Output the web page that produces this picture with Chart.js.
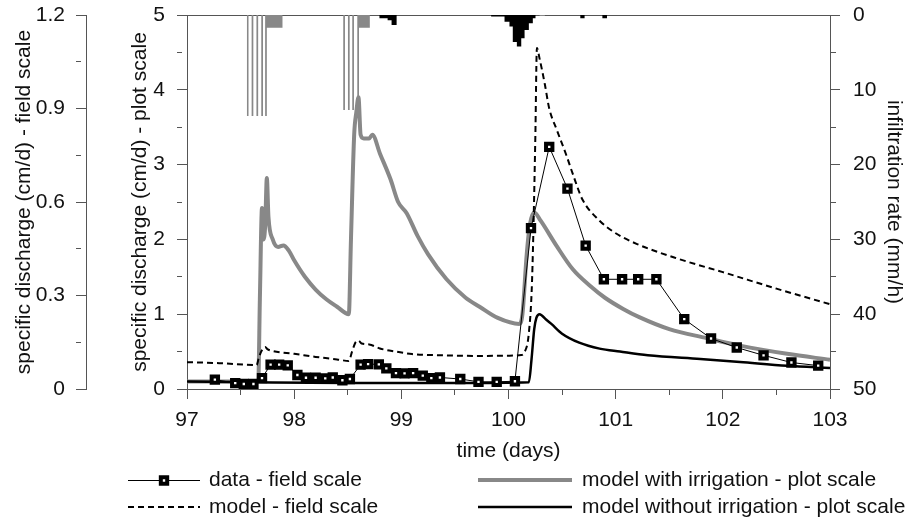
<!DOCTYPE html>
<html>
<head>
<meta charset="utf-8">
<title>specific discharge and infiltration rate</title>
<script src="https://cdn.jsdelivr.net/npm/chart.js@4.4.1/dist/chart.umd.min.js"></script>
<style>
  html, body { margin: 0; padding: 0; background: #fff; }
  #wrap { width: 907px; height: 518px; position: relative; }
</style>
</head>
<body>
<div id="wrap"><canvas id="chart"></canvas></div>
<script>
// measured discharge, field scale (cm/d)
var dataDays = [97.26, 97.45, 97.53, 97.62, 97.70, 97.78, 97.86, 97.94, 98.03, 98.11, 98.20, 98.29, 98.36, 98.45,
    98.52, 98.62, 98.69, 98.79, 98.86, 98.95, 99.03, 99.11, 99.20, 99.28, 99.36, 99.55, 99.72, 99.89, 100.06,
    100.21, 100.38, 100.55, 100.72, 100.89, 101.06, 101.21, 101.38, 101.64, 101.89, 102.13, 102.38, 102.64, 102.89];
var dataField = [0.030, 0.019, 0.016, 0.016, 0.035, 0.078, 0.078, 0.076, 0.045, 0.036, 0.036, 0.034, 0.037, 0.028,
    0.032, 0.078, 0.080, 0.079, 0.066, 0.051, 0.050, 0.051, 0.043, 0.035, 0.037, 0.032, 0.023, 0.023, 0.025,
    0.516, 0.777, 0.643, 0.460, 0.352, 0.352, 0.352, 0.352, 0.224, 0.162, 0.133, 0.108, 0.085, 0.075];

// model, field scale (cm/d)
var fieldModelDays = [97.0, 97.3, 97.65, 97.67, 97.70, 97.73, 97.75, 97.8, 98.0, 98.2, 98.4, 98.51, 98.54, 98.57,
    98.6, 98.63, 98.7, 98.8, 98.95, 99.1, 99.4, 99.73, 100.0, 100.12, 100.15, 100.19, 100.22, 100.25, 100.265,
    100.29, 100.34, 100.38, 100.45, 100.54, 100.6, 100.69, 100.85, 100.99, 101.2, 101.6, 102.0, 102.5, 103.0];
var fieldModel = [0.086, 0.083, 0.077, 0.1, 0.125, 0.135, 0.128, 0.122, 0.113, 0.103, 0.095, 0.09, 0.12, 0.148,
    0.155, 0.146, 0.143, 0.13, 0.12, 0.112, 0.108, 0.106, 0.107, 0.109, 0.118, 0.18, 0.35, 0.8, 1.094,
    1.06, 0.976, 0.9, 0.832, 0.75, 0.69, 0.608, 0.54, 0.502, 0.465, 0.416, 0.375, 0.322, 0.272];

// model with irrigation, plot scale (cm/d)
var plotIrrDays = [97.0, 97.3, 97.6, 97.665, 97.68, 97.70, 97.715, 97.73, 97.745, 97.76, 97.8, 97.85, 97.9, 97.95,
    98.0, 98.1, 98.2, 98.3, 98.4, 98.51, 98.53, 98.56, 98.58, 98.6, 98.62, 98.65, 98.7, 98.73, 98.8, 98.9, 98.97,
    99.05, 99.15, 99.25, 99.42, 99.6, 99.73, 99.9, 100.1, 100.13, 100.17, 100.2, 100.24, 100.3, 100.45, 100.6,
    100.76, 100.9, 101.07, 101.22, 101.5, 101.85, 102.16, 102.6, 103.0];
var plotIrr = [0.1, 0.1, 0.1, 0.11, 1.2, 2.42, 2.0, 2.2, 2.82, 2.3, 2.0, 1.9, 1.92, 1.85,
    1.72, 1.5, 1.33, 1.2, 1.1, 1.0, 2.0, 3.4, 3.7, 3.9, 3.4, 3.35, 3.35, 3.4, 3.15, 2.8, 2.5,
    2.35, 2.05, 1.8, 1.47, 1.22, 1.1, 0.95, 0.87, 1.0, 1.8, 2.2, 2.36, 2.25, 1.91, 1.6,
    1.38, 1.22, 1.07, 0.96, 0.8, 0.68, 0.58, 0.47, 0.39];

// model without irrigation, plot scale (cm/d)
var plotNoIrrDays = [97.0, 97.6, 98.5, 99.5, 100.19, 100.215, 100.24, 100.26, 100.29, 100.35, 100.4, 100.5,
    100.66, 100.85, 101.04, 101.3, 101.79, 102.16, 102.6, 103.0];
var plotNoIrr = [0.1, 0.09, 0.08, 0.08, 0.09, 0.4, 0.8, 0.95, 1.0, 0.93, 0.87, 0.74,
    0.62, 0.54, 0.5, 0.45, 0.4, 0.36, 0.31, 0.28];

// infiltration rate (mm/h), each value holds until the next time
var irrDays = [97.558, 97.574, 97.603, 97.619, 97.648, 97.664, 97.693, 97.709, 97.729, 97.745, 97.891,
    98.458, 98.474, 98.502, 98.518, 98.542, 98.558, 98.589, 98.605, 98.706, 100.29, 100.34];
var irrRate = [13.5, 0, 13.5, 0, 13.5, 0, 13.5, 0, 13.5, 1.7, 0,
    12.7, 0, 12.7, 0, 12.7, 0, 12.7, 1.7, 0, 0.15, 0];
var rainDays = [98.794, 98.872, 98.909, 98.956, 99.838, 99.963, 100.009, 100.040, 100.078, 100.119, 100.150,
    100.190, 100.227, 100.252, 100.670, 100.710, 100.876, 100.919];
var rainRate = [0.45, 0.7, 1.35, 0, 0.2, 0.9, 1.55, 3.6, 4.2, 3.1, 2.0,
    1.1, 0.45, 0, 0.45, 0, 0.45, 0];

var legendLabels = ['data - field scale', 'model - field scale',
    'model with irrigation - plot scale', 'model without irrigation - plot scale'];

var axisColor = '#555';
var textColor = '#111';
var grey = '#888';
var fontSize = 21;

function pts(xs, ys) {
    return xs.map(function (x, i) { return {x: x, y: ys[i]}; });
}

// minor ticks: only the inner half of the tick line is drawn
function minorDash(ctx) {
    return ctx.index % 2 === 1 ? [5, 40] : [];
}

function majorLabel(digits) {
    return function (v, i) {
        if (i % 2 === 1) return '';
        var r = Math.round(v * 100) / 100;
        return r === 0 ? '0' : r.toFixed(digits);
    };
}

function axisTitle(text, pad) {
    return { display: true, text: text, color: textColor, font: {size: fontSize}, padding: {top: pad, bottom: 0} };
}

// fixed box width for a vertical axis, labels may overhang the plot top
function fixWidth(w) {
    return function (s) {
        s.width = w;
        s.paddingTop = 0;
        s.paddingBottom = 0;
    };
}

Chart.defaults.font.family = "'Liberation Sans', Arial, sans-serif";
Chart.defaults.font.size = fontSize;
Chart.defaults.color = textColor;

var legendPlugin = {
    id: 'twoColumnLegend',
    afterDraw: function (chart) {
        var ctx = chart.ctx;
        var ds = chart.data.datasets;
        var rows = [
            {d: ds[0], x0: 128, x1: 200, y: 480, tx: 209, label: legendLabels[0]},
            {d: ds[1], x0: 128, x1: 200, y: 507, tx: 209, label: legendLabels[1]},
            {d: ds[2], x0: 478, x1: 572, y: 480, tx: 582, label: legendLabels[2]},
            {d: ds[3], x0: 478, x1: 572, y: 507, tx: 582, label: legendLabels[3]}
        ];
        ctx.save();
        rows.forEach(function (r) {
            var ly = r.d.borderWidth % 2 === 1 ? r.y + 0.5 : r.y;
            ctx.beginPath();
            ctx.strokeStyle = r.d.borderColor;
            ctx.lineWidth = r.d.borderWidth;
            ctx.setLineDash(r.d.borderDash || []);
            ctx.moveTo(r.x0, ly);
            ctx.lineTo(r.x1, ly);
            ctx.stroke();
            ctx.setLineDash([]);
            if (r.d.pointRadius) {
                var h = Math.SQRT1_2 * r.d.pointRadius;
                var mx = (r.x0 + r.x1) / 2;
                ctx.fillStyle = r.d.pointBackgroundColor;
                ctx.strokeStyle = r.d.pointBorderColor;
                ctx.lineWidth = r.d.pointBorderWidth;
                ctx.beginPath();
                ctx.rect(mx - h, ly - h, 2 * h, 2 * h);
                ctx.fill();
                ctx.stroke();
            }
            ctx.fillStyle = textColor;
            ctx.font = fontSize + "px 'Liberation Sans', Arial, sans-serif";
            ctx.textAlign = 'left';
            ctx.textBaseline = 'middle';
            ctx.fillText(r.label, r.tx, r.y);
        });
        ctx.restore();
    }
};

var topFrame = {
    id: 'topFrame',
    beforeDatasetsDraw: function (chart) {
        var a = chart.chartArea;
        var ctx = chart.ctx;
        ctx.save();
        ctx.strokeStyle = axisColor;
        ctx.lineWidth = 1;
        ctx.beginPath();
        ctx.moveTo(a.left, a.top + 0.5);
        ctx.lineTo(a.right, a.top + 0.5);
        ctx.stroke();
        ctx.restore();
    }
};

new Chart(document.getElementById('chart'), {
    type: 'line',
    data: {
        datasets: [{
            label: legendLabels[0],
            data: pts(dataDays, dataField),
            yAxisID: 'yField',
            borderColor: '#000',
            borderWidth: 1,
            tension: 0,
            pointStyle: 'rect',
            pointRadius: 4.5,
            pointBorderWidth: 4,
            pointBorderColor: '#000',
            pointBackgroundColor: '#fff',
            order: 0
        }, {
            label: legendLabels[1],
            data: pts(fieldModelDays, fieldModel),
            yAxisID: 'yField',
            borderColor: '#000',
            borderWidth: 2,
            borderDash: [6, 4],
            pointRadius: 0,
            cubicInterpolationMode: 'monotone',
            order: 2
        }, {
            label: legendLabels[2],
            data: pts(plotIrrDays, plotIrr),
            yAxisID: 'yPlot',
            borderColor: grey,
            borderWidth: 4,
            pointRadius: 0,
            cubicInterpolationMode: 'monotone',
            order: 3
        }, {
            label: legendLabels[3],
            data: pts(plotNoIrrDays, plotNoIrr),
            yAxisID: 'yPlot',
            borderColor: '#000',
            borderWidth: 2.5,
            pointRadius: 0,
            cubicInterpolationMode: 'monotone',
            order: 1
        }, {
            label: 'irrigation',
            data: pts(irrDays, irrRate),
            yAxisID: 'yRain',
            stepped: 'before',
            borderColor: 'rgba(0,0,0,0)',
            borderWidth: 1,
            backgroundColor: grey,
            fill: 'origin',
            pointRadius: 0,
            order: 5
        }, {
            label: 'rain',
            data: pts(rainDays, rainRate),
            yAxisID: 'yRain',
            stepped: 'before',
            borderColor: 'rgba(0,0,0,0)',
            borderWidth: 1,
            backgroundColor: '#000',
            fill: 'origin',
            pointRadius: 0,
            order: 4
        }]
    },
    options: {
        responsive: true,
        maintainAspectRatio: false,
        animation: false,
        layout: { padding: {left: 0, right: 0, top: 15, bottom: 54} },
        plugins: {
            legend: { display: false },
            tooltip: { enabled: false }
        },
        scales: {
            x: {
                type: 'linear',
                position: 'bottom',
                min: 97,
                max: 103,
                ticks: { stepSize: 0.5, autoSkip: false, maxRotation: 0, padding: 9, callback: majorLabel(0) },
                grid: { drawOnChartArea: false, tickLength: 10, tickColor: axisColor, tickBorderDash: minorDash },
                border: { color: axisColor },
                title: axisTitle('time (days)', 4),
                afterFit: function (s) { s.height = 75; }
            },
            yPlot: {
                type: 'linear',
                position: 'left',
                weight: 0,
                min: 0,
                max: 5,
                ticks: { stepSize: 0.5, autoSkip: false, padding: 12, callback: majorLabel(0) },
                grid: { drawOnChartArea: false, tickLength: 10, tickColor: axisColor, tickBorderDash: minorDash },
                border: { color: axisColor },
                title: axisTitle('specific discharge (cm/d) - plot scale', 42),
                afterFit: fixWidth(101)
            },
            yField: {
                type: 'linear',
                position: 'left',
                weight: 1,
                min: 0,
                max: 1.2,
                ticks: { stepSize: 0.15, autoSkip: false, padding: 11, callback: majorLabel(1) },
                grid: { drawOnChartArea: false, tickLength: 10, tickColor: axisColor, tickBorderDash: minorDash },
                border: { color: axisColor },
                title: axisTitle('specific discharge (cm/d) - field scale', 12),
                afterFit: fixWidth(86)
            },
            yRain: {
                type: 'linear',
                position: 'right',
                reverse: true,
                min: 0,
                max: 50,
                ticks: { stepSize: 5, autoSkip: false, padding: 13, callback: majorLabel(0) },
                grid: { drawOnChartArea: false, tickLength: 10, tickColor: axisColor, tickBorderDash: minorDash },
                border: { color: axisColor },
                title: axisTitle('infiltration rate (mm/h)', 1),
                afterFit: fixWidth(77)
            }
        }
    },
    plugins: [legendPlugin, topFrame]
});
</script>
</body>
</html>
